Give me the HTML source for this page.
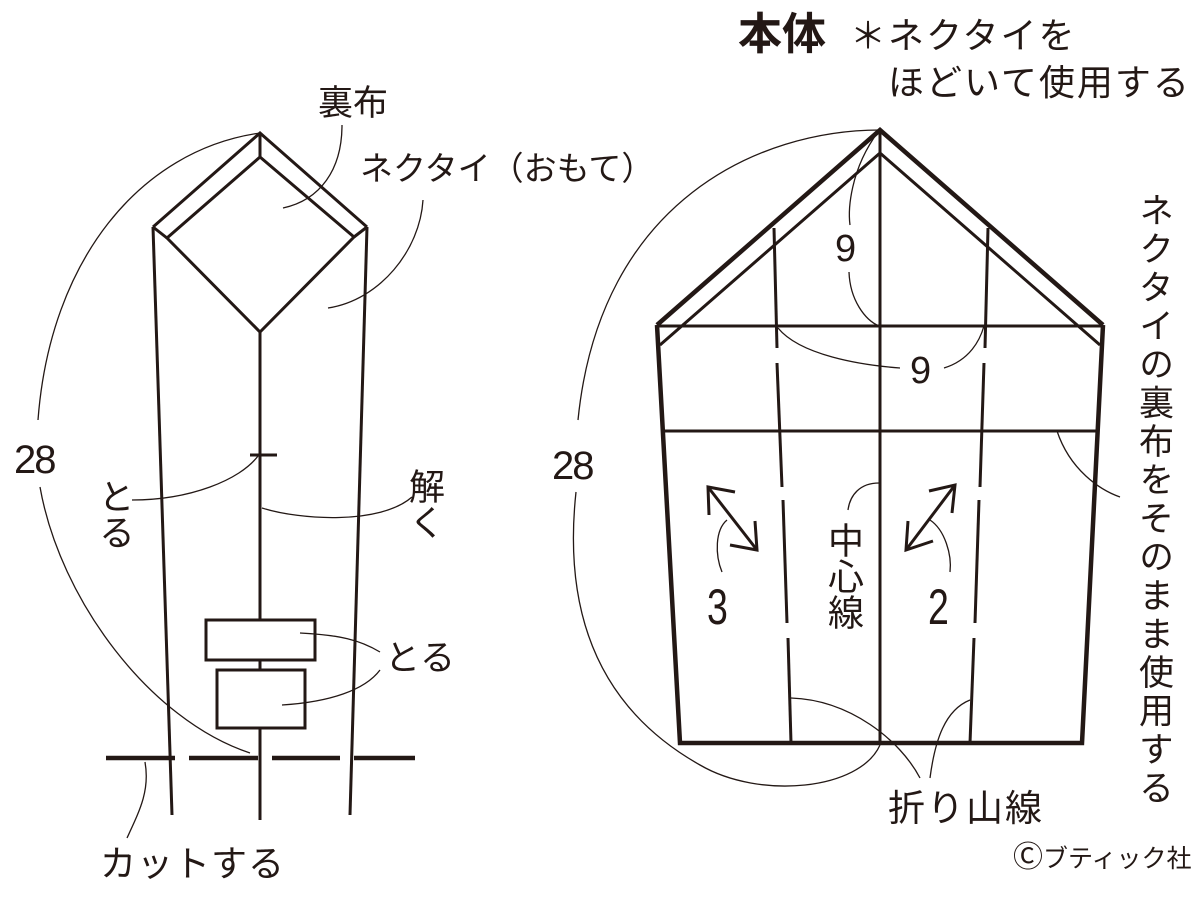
<!DOCTYPE html>
<html><head><meta charset="utf-8"><style>
html,body{margin:0;padding:0;background:#fff;}
body{width:1200px;height:900px;position:relative;overflow:hidden;font-family:"Liberation Sans","Noto Sans CJK JP",sans-serif;color:#231815;}
.t{position:absolute;white-space:nowrap;line-height:1;}
.v{writing-mode:vertical-rl;}
svg{position:absolute;left:0;top:0;}
</style></head><body>
<svg width="1200" height="900" viewBox="0 0 1200 900" fill="none" stroke="#231815" stroke-linecap="butt">
<g stroke-width="3">
<polyline points="153,227 260,133 367,227"/>
<polygon points="260,157 354,237 260,332 167,238"/>
<line x1="260" y1="133" x2="260" y2="157"/>
<line x1="153" y1="227" x2="167" y2="238"/>
<line x1="367" y1="227" x2="354" y2="237"/>
<line x1="153" y1="227" x2="172" y2="815"/>
<line x1="367" y1="227" x2="350" y2="815"/>
<line x1="260" y1="332" x2="260" y2="820"/>
<line x1="250" y1="455" x2="277" y2="455"/>
<rect x="206" y="620" width="109" height="40" fill="#fff"/>
<rect x="217" y="670" width="88" height="58" fill="#fff"/>
</g>
<g stroke-width="4.5">
<line x1="106" y1="758" x2="175" y2="758"/>
<line x1="189" y1="758" x2="258" y2="758"/>
<line x1="272" y1="758" x2="340" y2="758"/>
<line x1="354" y1="758" x2="415" y2="758"/>
</g>
<g stroke-width="1.3">
<path d="M260,133 C140,150 50,260 38,420"/>
<path d="M40,487 C60,600 150,720 250,753"/>
<path d="M283,208 C320,200 342,170 342,125"/>
<path d="M328,308 C380,300 420,250 423,200"/>
<path d="M132,500 C190,500 240,480 258,456"/>
<path d="M262,508 C300,520 380,525 412,497"/>
<path d="M300,633 C340,635 360,640 380,652"/>
<path d="M282,705 C330,702 365,690 380,670"/>
<path d="M145,762 C150,790 140,810 127,838"/>
</g>
<g stroke-width="4.5">
<polyline points="657,325 880,130 1103,325"/>
<polyline points="657,325 680,743 1082,743 1103,325"/>
</g>
<g stroke-width="3">
<polyline points="660,345 880,153 1100,345"/>
<line x1="657" y1="326" x2="1103" y2="326"/>
<line x1="665" y1="431" x2="1097" y2="431"/>
<line x1="880" y1="130" x2="880" y2="743"/>
<line x1="774" y1="228" x2="777" y2="348"/><line x1="777" y1="363" x2="782" y2="487"/><line x1="783" y1="500" x2="787" y2="623"/><line x1="788" y1="638" x2="791" y2="743"/>
<line x1="988" y1="228" x2="985" y2="348"/><line x1="984" y1="363" x2="980" y2="487"/><line x1="979" y1="500" x2="975" y2="623"/><line x1="974" y1="638" x2="970" y2="743"/>
<line x1="708" y1="487" x2="757" y2="550"/>
<polyline points="709,515 708,487 735,492"/>
<polyline points="730,545 757,550 755,521"/>
<line x1="955" y1="485" x2="906" y2="550"/>
<polyline points="929,491 955,485 952,513"/>
<polyline points="908,521 906,550 933,541"/>
</g>
<g stroke-width="1.3">
<path d="M880,130 C760,130 600,200 578,420"/>
<path d="M576,492 C560,640 620,720 700,765 C760,800 860,790 880,745"/>
<path d="M878,132 C850,170 848,210 850,225"/>
<path d="M849,272 C850,300 865,320 879,326"/>
<path d="M778,328 C800,355 860,365 900,368"/>
<path d="M944,368 C970,360 980,340 984,326"/>
<path d="M879,483 C860,483 850,495 848,510"/>
<path d="M727,520 C715,530 715,555 722,572"/>
<path d="M930,520 C945,530 952,555 950,572"/>
<path d="M791,698 C850,700 900,740 920,778"/>
<path d="M970,700 C945,710 935,740 930,778"/>
<path d="M1057,431 C1070,470 1100,490 1120,497"/>
</g>
</svg>
<div class="t" style="left:318px;top:86px;font-size:35px;">裏布</div>
<div class="t" style="left:360px;top:152px;font-size:33px;">ネクタイ（おもて）</div>
<div class="t" style="left:14px;top:440px;font-size:40px;letter-spacing:-2px;">28</div>
<div class="t v" style="left:96px;top:478px;font-size:36px;">とる</div>
<div class="t v" style="left:406px;top:468px;font-size:36px;">解く</div>
<div class="t" style="left:385px;top:641px;font-size:35px;">とる</div>
<div class="t" style="left:100px;top:846px;font-size:36px;letter-spacing:1px;">カットする</div>
<div class="t" style="left:738px;top:13px;font-size:44px;font-weight:bold;">本体</div>
<div class="t" style="left:850px;top:18px;font-size:36px;letter-spacing:2px;">＊ネクタイを</div>
<div class="t" style="left:888px;top:65px;font-size:36px;letter-spacing:2px;">ほどいて使用する</div>
<div class="t v" style="left:1136px;top:192px;font-size:35px;letter-spacing:3.5px;">ネクタイの裏布をそのまま使用する</div>
<div class="t" style="left:552px;top:446px;font-size:40px;letter-spacing:-2px;">28</div>
<div class="t" style="left:835px;top:230px;font-size:38px;">9</div>
<div class="t" style="left:910px;top:352px;font-size:38px;">9</div>
<div class="t" style="left:707px;top:582px;font-size:50px;transform:scaleX(0.75);transform-origin:left;">3</div>
<div class="t" style="left:928px;top:582px;font-size:50px;transform:scaleX(0.75);transform-origin:left;">2</div>
<div class="t v" style="left:825px;top:522px;font-size:36px;">中心線</div>
<div class="t" style="left:888px;top:790px;font-size:37px;letter-spacing:2px;">折り山線</div>
<div class="t" style="left:1013px;top:843px;font-size:25px;"><span style="font-size:30px;">Ⓒ</span>ブティック社</div>
</body></html>
